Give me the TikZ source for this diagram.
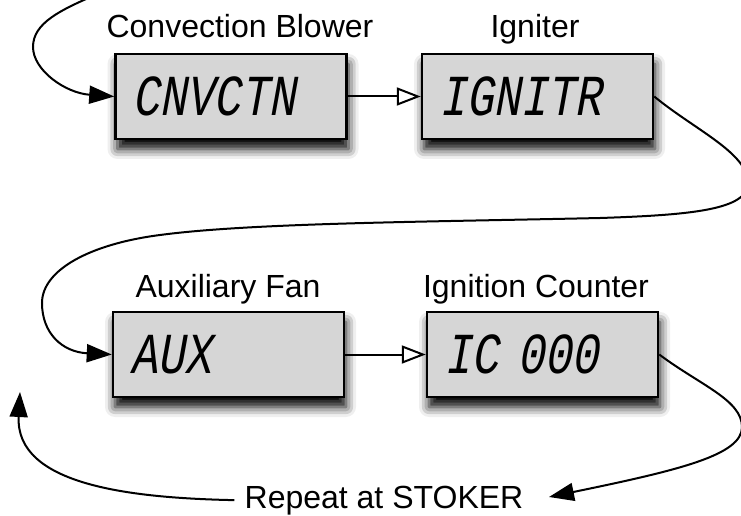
\documentclass[tikz,border=0pt]{standalone}
\usepackage{fontspec}
\setmainfont{Liberation Sans}
\newfontfamily\lcdfont[FakeStretch=0.78,FakeSlant=0.18]{Liberation Mono}
\usetikzlibrary{arrows.meta,shadows.blur}
\definecolor{boxgray}{RGB}{214,214,214}
\begin{document}
\begin{tikzpicture}[x=1pt,y=1pt,
  box/.style={draw=black, line width=2.5pt, fill=boxgray, minimum height=85pt,
    text width=197pt, inner xsep=17pt, align=left,
    font=\lcdfont\fontsize{58}{60}\selectfont,
    blur shadow={shadow xshift=2pt, shadow yshift=-10pt, shadow blur radius=10pt, shadow opacity=100}},
  lbl/.style={font=\fontsize{32}{38}\selectfont, anchor=base, inner sep=0pt},
  curve/.style={line width=2pt, -{Triangle[length=25pt,width=18pt]}},
  flow/.style={line width=2pt, -{Triangle[open,length=24pt,width=18pt,fill=white,line width=2pt]}}
]
\useasboundingbox (0,0) rectangle (741,515);
\clip (0,0) rectangle (741,515);

\node[box] (b1) at (231,418.5) {CNVCTN};
\node[box] (b2) at (537.5,418.5) {IGNITR};
\node[box] (b3) at (228.5,160.5) {AUX};
\node[box] (b4) at (542.5,160.5) {IC 000};

\node[lbl] (l1) at (240,477) {Convection Blower};
\node[lbl] (l2) at (535,477) {Igniter};
\node[lbl] (l3) at (228,218) {Auxiliary Fan};
\node[lbl] (l4) at (536,218) {Ignition Counter};
\node[lbl, inner xsep=10pt, inner ysep=0pt] (rep) at (384,7) {Repeat at STOKER};

\coordinate (top) at (100,522);
\coordinate (stk) at (549,18);
\coordinate (auxin) at (20,123);

\draw[flow] (b1.east) -- (b2.west);
\draw[flow] (b3.east) -- (b4.west);

\draw[curve] (top) .. controls (60,505) and (33,492) .. (33,468)
  .. controls (33,445) and (65,422) .. (b1.west);

\draw[curve] (b2.east) .. controls (695,385) and (748,362) .. (748,332)
  .. controls (748,305) and (690,300) .. (600,297)
  .. controls (420,293) and (250,292) .. (160,280)
  .. controls (90,271) and (42,245) .. (42,212)
  .. controls (42,182) and (62,163) .. (b3.west);

\draw[curve] (b4.east) .. controls (700,130) and (742,115) .. (742,88)
  .. controls (742,60) and (680,45) .. (stk);

\draw[curve] (rep.west) .. controls (130,17) and (15,30) .. (auxin);
\end{tikzpicture}
\end{document}
